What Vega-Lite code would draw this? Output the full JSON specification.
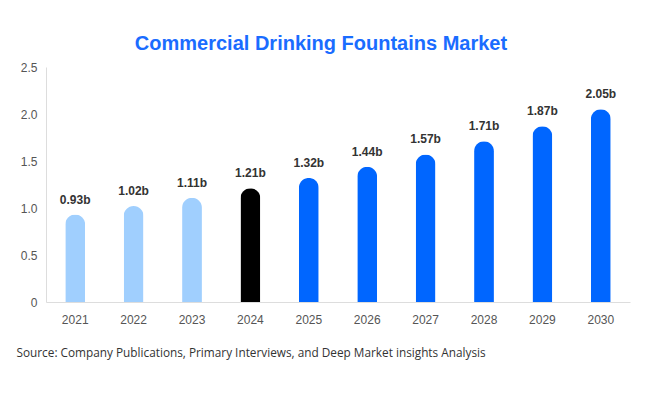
{
  "$schema": "https://vega.github.io/schema/vega-lite/v6.json",
  "autosize": "none",
  "width": 584,
  "height": 235,
  "padding": {"left": 46, "top": 67, "right": 16, "bottom": 92},
  "background": "white",
  "title": {
    "text": "Commercial Drinking Fountains Market",
    "font": "Liberation Sans",
    "fontSize": 20,
    "fontWeight": "bold",
    "color": "#1a6cff",
    "anchor": "middle",
    "dx": -17,
    "offset": 7
  },
  "data": {
    "values": [
      {"year": "2021", "value": 0.93, "label": "0.93b", "kind": "past"},
      {"year": "2022", "value": 1.02, "label": "1.02b", "kind": "past"},
      {"year": "2023", "value": 1.11, "label": "1.11b", "kind": "past"},
      {"year": "2024", "value": 1.21, "label": "1.21b", "kind": "current"},
      {"year": "2025", "value": 1.32, "label": "1.32b", "kind": "forecast"},
      {"year": "2026", "value": 1.44, "label": "1.44b", "kind": "forecast"},
      {"year": "2027", "value": 1.57, "label": "1.57b", "kind": "forecast"},
      {"year": "2028", "value": 1.71, "label": "1.71b", "kind": "forecast"},
      {"year": "2029", "value": 1.87, "label": "1.87b", "kind": "forecast"},
      {"year": "2030", "value": 2.05, "label": "2.05b", "kind": "forecast"}
    ]
  },
  "config": {
    "view": {"stroke": null},
    "font": "Liberation Sans"
  },
  "encoding": {
    "x": {
      "field": "year",
      "type": "nominal",
      "scale": {"paddingInner": 0.66, "paddingOuter": 0.33},
      "axis": {
        "labelAngle": 0,
        "labelFont": "Liberation Sans",
        "labelFontSize": 12,
        "labelColor": "#555",
        "labelPadding": 12,
        "ticks": false,
        "domainColor": "#dddddd",
        "title": "Source: Company Publications, Primary Interviews, and Deep Market insights Analysis",
        "titleFont": "Open Sans",
        "titleFontSize": 11.8,
        "titleFontWeight": "normal",
        "titleColor": "#333",
        "titleAnchor": "start",
        "titleAlign": "left",
        "titleBaseline": "middle",
        "titleX": -30,
        "titleY": 50
      }
    },
    "y": {
      "field": "value",
      "type": "quantitative",
      "scale": {"domain": [0, 2.5]},
      "axis": {
        "values": [0, 0.5, 1, 1.5, 2, 2.5],
        "labelExpr": "datum.value == 0 ? '0' : format(datum.value, '.1f')",
        "labelFont": "Liberation Sans",
        "labelFontSize": 12,
        "labelColor": "#555",
        "labelPadding": 9,
        "ticks": false,
        "grid": false,
        "domainColor": "#dddddd",
        "title": null
      }
    }
  },
  "layer": [
    {
      "mark": {"type": "bar", "cornerRadiusTopLeft": 10, "cornerRadiusTopRight": 10},
      "encoding": {
        "color": {
          "field": "kind",
          "type": "nominal",
          "scale": {"domain": ["past", "current", "forecast"], "range": ["#a0cffe", "#000000", "#0066ff"]},
          "legend": null
        }
      }
    },
    {
      "mark": {"type": "text", "baseline": "bottom", "dy": -8, "fontWeight": "bold", "fontSize": 12, "color": "#333", "font": "Liberation Sans"},
      "encoding": {"text": {"field": "label"}}
    }
  ]
}
